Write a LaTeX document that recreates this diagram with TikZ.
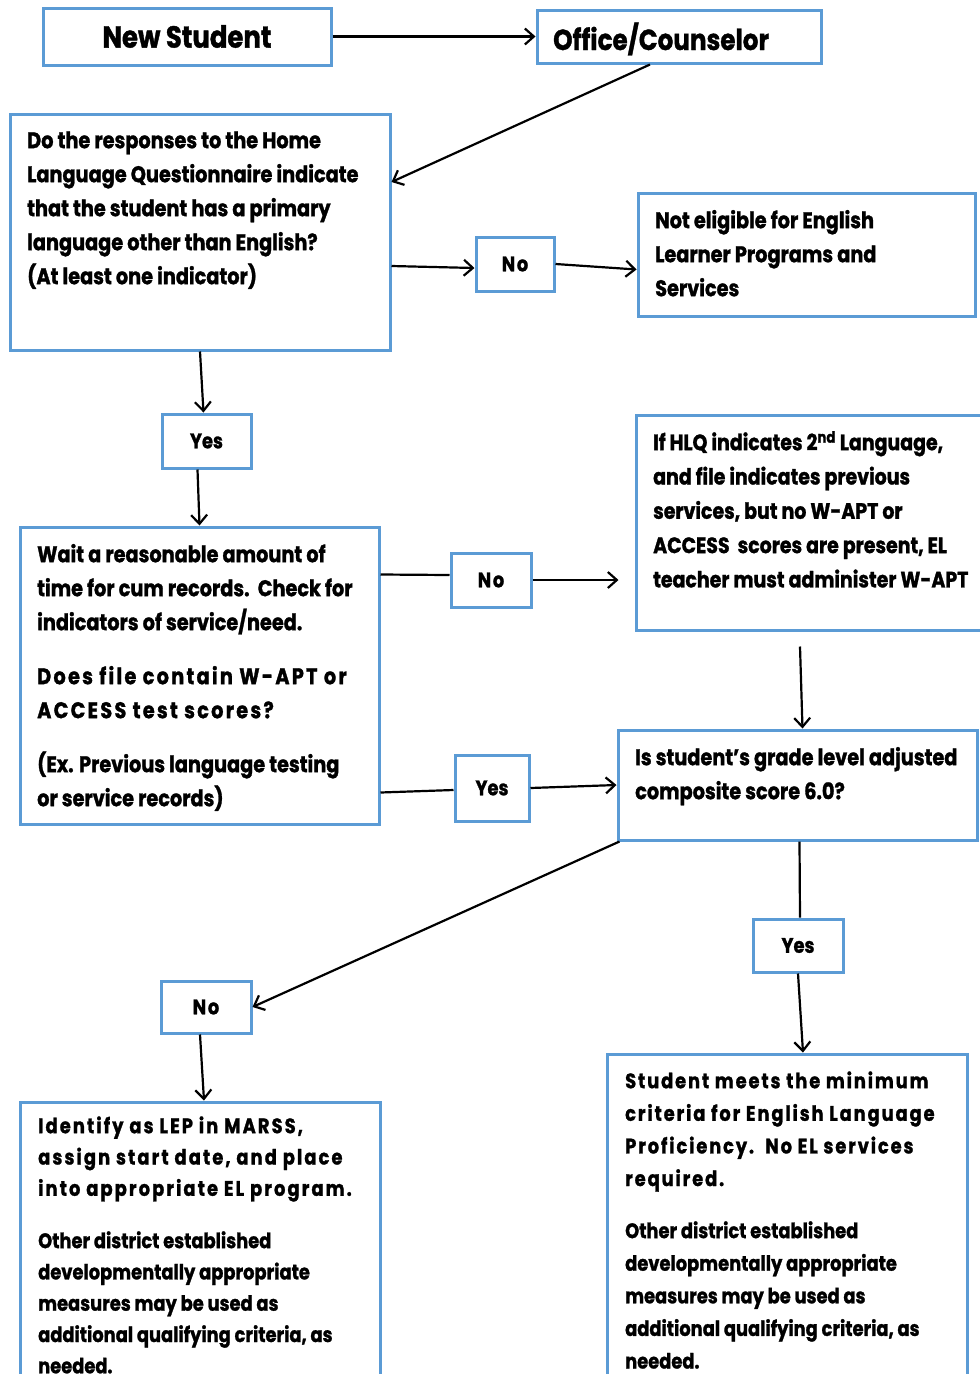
\documentclass[tikz,border=0pt]{standalone}
\usepackage{fontspec}
\setmainfont{Poppins}[FakeStretch=0.85, BoldFeatures={FakeBold=1.2}]
\usetikzlibrary{arrows.meta,calc}
\definecolor{bxc}{RGB}{91,155,213}
\newcommand\lsp[1]{\addfontfeatures{LetterSpace=#1}}
\tikzset{
 box/.style={draw=bxc, line width=3pt, inner sep=0pt, fill=white},
 lbl/.style={box, font=\fontsize{21}{24}\selectfont\bfseries},
 txt/.style={inner sep=0pt, anchor=north west, align=left, font=\fontsize{22.7}{34}\selectfont\bfseries},
 con/.style={line width=2.2pt, draw=black},
 arr/.style={con, -{Straight Barb[length=9pt,width=16pt]}},
}
\begin{document}
\begin{tikzpicture}[x=1pt,y=1pt]
\useasboundingbox (0,0) rectangle (980,-1374);
\clip (0,0) rectangle (980,-1374);
% boxes
\node[box, minimum width=288, minimum height=57, font=\fontsize{30.5}{34}\selectfont\bfseries] (ns) at (187,-36.5) {New Student};
\node[box, minimum width=284, minimum height=53] (oc) at (679,-36.5) {};
\node[box, minimum width=380, minimum height=236] (q1) at (200,-232) {};
\node[lbl, minimum width=78, minimum height=54] (no1) at (515,-264) {\lsp{8}No};
\node[box, minimum width=337, minimum height=123] (ne) at (806.5,-254.5) {};
\node[lbl, minimum width=89, minimum height=54] (yes1) at (206.5,-441) {Yes};
\node[box, minimum width=359, minimum height=297] (wait) at (199.5,-675.5) {};
\node[lbl, minimum width=80, minimum height=54] (no2) at (491,-580) {\lsp{8}No};
\node[box, minimum width=360, minimum height=215] (hlq) at (816,-522.5) {};
\node[lbl, minimum width=74, minimum height=66] (yes2) at (492,-788) {Yes};
\node[box, minimum width=359, minimum height=110] (score) at (797.5,-785) {};
\node[lbl, minimum width=90, minimum height=53] (yes3) at (798,-945.5) {Yes};
\node[lbl, minimum width=90, minimum height=52] (no3) at (206,-1007) {\lsp{8}No};
\node[box, minimum width=360, minimum height=300] (ident) at (200,-1252) {};
\node[box, minimum width=360, minimum height=340] (sm) at (787,-1224) {};
% texts
\node[txt, anchor=base west, font=\fontsize{29}{30}\selectfont\bfseries] (oct) at (553,-50) {Office/Counselor};
\node[txt] (q1t) at (27,-124.2) {\strut Do the responses to the Home\\Language Questionnaire indicate\\that the student has a primary\\language other than English?\\(At least one indicator)};
\node[txt] (net) at (655,-204.2) {\strut Not eligible for English\\Learner Programs and\\Services};
\node[txt] (waitt) at (37,-538.2) {\strut Wait a reasonable amount of\\time for cum records.\ \ Check for\\indicators of service/need.\\[20pt]{\lsp{10}Does file contain W-APT or}\\{\lsp{10}ACCESS test scores?}\\[20pt](Ex. Previous language testing\\or service records)};
\node[txt, font=\fontsize{22.3}{34.3}\selectfont\bfseries] (hlqt) at (653,-426) {\strut If HLQ indicates 2\textsuperscript{nd} Language,\\and file indicates previous\\services, but no W-APT or\\ACCESS\ \ scores are present, EL\\teacher must administer W-APT};
\node[txt] (scoret) at (635,-741.2) {\strut Is student’s grade level adjusted\\composite score 6.0?};
\node[txt, font=\fontsize{21}{31.3}\selectfont\bfseries] (identt) at (38,-1111.1) {{\strut\lsp{10}Identify as LEP in MARSS,}\\{\lsp{10}assign start date, and place}\\{\lsp{10}into appropriate EL program.}\\[21pt]Other district established\\developmentally appropriate\\measures may be used as\\additional qualifying criteria, as\\needed.};
\node[txt, font=\fontsize{21}{32.6}\selectfont\bfseries] (smt) at (625,-1065.2) {{\strut\lsp{9}Student meets the minimum}\\{\lsp{9}criteria for English Language}\\{\lsp{9}Proficiency.\ \ No EL services}\\{\lsp{9}required.}\\[19.5pt]Other district established\\developmentally appropriate\\measures may be used as\\additional qualifying criteria, as\\needed.};
% connectors
\draw[arr] (ns.east) -- (oc.west);
\draw[arr] ([xshift=-29pt]oc.south) -- ([yshift=50pt]q1.east);
\draw[arr] ([yshift=-34pt]q1.east) -- ([yshift=-4pt]no1.west);
\draw[arr] (no1.east) -- ([yshift=-15pt]ne.west);
\draw[arr] (q1.south) -- ([xshift=-3pt]yes1.north);
\draw[arr] ([xshift=-9pt]yes1.south) -- (wait.north);
\draw[con] ([yshift=101pt]wait.east) -- ([yshift=5pt]no2.west);
\draw[arr] (no2.east) -- ($(no2.east -| hlq.west)+(-16,0)$);
\draw[arr] ($(hlq.south)+(-16,-15)$) -- ([xshift=5pt]score.north);
\draw[con] ([yshift=-117pt]wait.east) -- ([yshift=-2pt]yes2.west);
\draw[arr] (yes2.east) -- (score.west);
\draw[arr] ([xshift=3pt]score.south west) -- (no3.east);
\draw[con] ([xshift=2pt]score.south) -- ([xshift=2pt]yes3.north);
\draw[arr] (yes3.south) -- ([xshift=16pt]sm.north);
\draw[arr] ([xshift=-6pt]no3.south) -- ([xshift=4pt]ident.north);
\end{tikzpicture}
\end{document}
